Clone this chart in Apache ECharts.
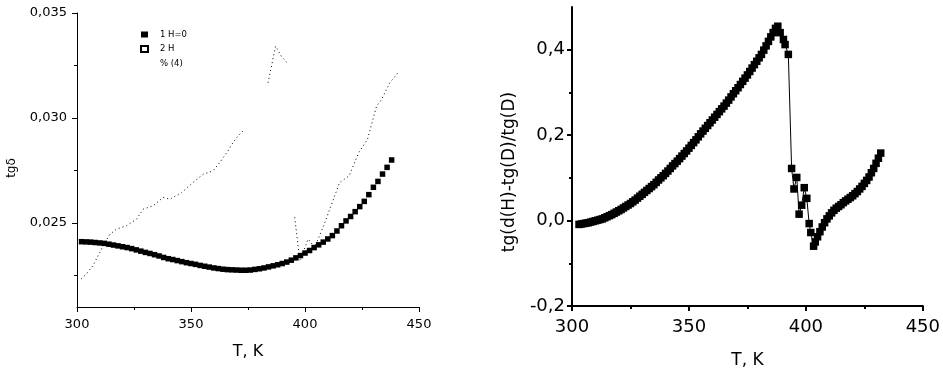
<!DOCTYPE html>
<html>
<head>
<meta charset="utf-8">
<script src="https://cdn.jsdelivr.net/npm/echarts@6/dist/echarts.min.js"></script>
<style>
html, body { margin: 0; padding: 0; background: #fff; }
#chart { width: 943px; height: 374px; }
</style>
</head>
<body>
<div id="chart"></div>
<script>
// левая панель: tg delta, серия 1 (H=0)
var leftT1 = [302,304,306,308,310,312,314,316,318,320,322,324,326,328,330,332,334,336,338,340,
  342,344,346,348,350,352,354,356,358,360,362,364,366,368,370,372,374,376,378,380,
  382,384,386,388,390,392,394,396,398,400,402,404,406,408,410,412,414,416,418,420,
  422,424,426,428,430,432,434,436,438];
var leftV1 = [0.02411,0.02410,0.02409,0.02407,0.02405,0.02403,0.02399,0.02395,0.02391,0.02387,
  0.02383,0.02378,0.02372,0.02366,0.02360,0.02355,0.02349,0.02343,0.02336,0.02330,
  0.02326,0.02321,0.02316,0.02311,0.02307,0.02303,0.02298,0.02294,0.02290,0.02286,
  0.02283,0.02280,0.02278,0.02277,0.02276,0.02275,0.02275,0.02276,0.02279,0.02282,
  0.02286,0.02291,0.02296,0.02301,0.02307,0.02314,0.02323,0.02334,0.02345,0.02357,
  0.02369,0.02383,0.02396,0.02409,0.02424,0.02440,0.02462,0.02487,0.02510,0.02531,
  0.02554,0.02578,0.02603,0.02635,0.02670,0.02698,0.02733,0.02765,0.02800];

// серия 2 (H), пунктир; null = разрыв
var leftT2 = [301.9,304.1,307,310,312.3,314.5,317.4,321.7,326.1,329,333.4,337.8,340.7,345.9,350.9,
  355.3,359.6,362.6,366.2,368.4,370.6,373.5,378,383.8,387.1,389.6,392.1,394,395.5,397.7,
  401.4,404.2,407.9,415.2,419.3,423.7,427.4,431.4,433.6,437.3,441];
var leftV2 = [0.02234,0.02257,0.02297,0.02360,0.02408,0.02447,0.02471,0.02487,0.02518,0.02566,
  0.02582,0.02622,0.02613,0.02645,0.02693,0.02732,0.02748,0.02788,0.02843,0.02883,
  0.02914,0.02946,null,0.03168,0.03342,0.03294,0.03263,null,0.02527,0.02321,
  0.02424,0.02384,0.02479,0.02693,0.02724,0.02838,0.02898,0.03057,0.03088,0.03170,0.03218];

// правая панель: (tg(H)-tg(D))/tg(D)
var rightT = [303,304,305,306,307,308,309,310,311,312,313,314,315,316,317,318,319,320,321,322,
  323,324,325,326,327,328,329,330,331,332,333,334,335,336,337,338,339,340,341,342,
  343,344,345,346,347,348,349,350,351,352,353,354,355,356,357,358,359,360,361,362,
  363,364,365,366,367,368,369,370,371,372,373,374,375,376,377,378,379,380,381,382,
  383,384,385,386,387,388,389,390.4,391.1,392.5,393.9,394.9,396.1,397.1,398.2,399.3,400.4,401.4,402.1,403.3,
  404,405,406,407,408,409,410,411,412,413,414,415,416,417,418,419,420,421,422,423,
  424,425,426,427,428,429,430,431,432];
var rightV = [-0.009,-0.008,-0.007,-0.006,-0.005,-0.0035,-0.002,-0.0005,0.001,0.0025,
  0.004,0.0065,0.009,0.0115,0.014,0.017,0.020,0.023,0.026,0.0295,
  0.033,0.0365,0.040,0.044,0.048,0.0525,0.057,0.0615,0.066,0.0705,
  0.075,0.0795,0.084,0.0895,0.095,0.100,0.105,0.1105,0.116,0.122,
  0.128,0.1335,0.139,0.145,0.151,0.157,0.163,0.1695,0.176,0.1825,
  0.189,0.196,0.203,0.2095,0.216,0.2225,0.229,0.2355,0.242,0.2485,
  0.255,0.2615,0.268,0.275,0.282,0.2895,0.297,0.304,0.311,0.3185,
  0.326,0.3335,0.341,0.349,0.357,0.365,0.373,0.381,0.389,0.399,
  0.409,0.4195,0.430,0.440,0.450,0.455,
  0.440,0.424,0.412,0.389,0.122,0.074,0.101,0.015,0.036,0.077,0.052,-0.007,-0.028,-0.060,
  -0.050,-0.038,-0.026,-0.015,-0.005,0.004,0.011,0.018,0.024,0.029,0.033,0.037,0.042,0.046,
  0.050,0.054,0.058,0.063,0.068,0.074,0.080,0.087,0.094,0.102,0.112,0.122,0.134,0.146,0.158];

var xTicks = [300, 350, 400, 450];
var leftYTicks = [0.025, 0.030, 0.035];
var leftYMinor = [0.0225, 0.0275, 0.0325];
var rightYTicks = [-0.2, 0.0, 0.2, 0.4];
var rightYMinor = [-0.1, 0.1, 0.3];

var FONT = 'DejaVu Sans';

function pairs(xs, ys) {
  return xs.map(function (x, i) { return [x, ys[i] === null ? '-' : ys[i]]; });
}

function xAxisCfg(grid, fs, margin, gap, nameSize, lw) {
  return {
    gridIndex: grid, type: 'value',
    min: xTicks[0], max: xTicks[xTicks.length - 1], interval: 50,
    axisLine: { onZero: false, lineStyle: { color: '#000', width: lw } },
    axisTick: { length: 5, lineStyle: { color: '#000', width: lw } },
    minorTick: { show: true, splitNumber: 2, length: 3, lineStyle: { color: '#000', width: lw } },
    splitLine: { show: false },
    axisLabel: { color: '#000', fontFamily: FONT, fontSize: fs, margin: margin },
    name: 'T, K', nameLocation: 'middle', nameGap: gap,
    nameTextStyle: { color: '#000', fontFamily: FONT, fontSize: nameSize }
  };
}

var chart = echarts.init(document.getElementById('chart'));
var option = {
  animation: false,
  backgroundColor: '#fff',
  grid: [
    { left: 77, top: 13, width: 342, height: 294 },
    { left: 572, top: 7, width: 351, height: 301 }
  ],
  xAxis: [
    xAxisCfg(0, 13, 11, 37, 16, 1),
    xAxisCfg(1, 18, 12, 46, 17, 2)
  ],
  yAxis: [
    {
      gridIndex: 0, type: 'value', min: 0.021, max: 0.035, position: 'left',
      axisLine: { onZero: false, lineStyle: { color: '#000', width: 1 } },
      axisTick: { customValues: leftYTicks, length: 5, lineStyle: { color: '#000' } },
      splitLine: { show: false },
      axisLabel: {
        customValues: leftYTicks, color: '#000', fontFamily: FONT, fontSize: 13, margin: 10,
        formatter: function (v) { return v.toFixed(3).replace('.', ','); }
      }
    },
    {
      gridIndex: 0, type: 'value', min: 0.021, max: 0.035, position: 'left',
      axisLine: { show: false },
      axisTick: { customValues: leftYMinor, length: 3, lineStyle: { color: '#000' } },
      axisLabel: { show: false }, splitLine: { show: false }
    },
    {
      gridIndex: 1, type: 'value', min: -0.2, max: 0.5, position: 'left',
      axisLine: { onZero: false, lineStyle: { color: '#000', width: 2 } },
      axisTick: { customValues: rightYTicks, length: 5, lineStyle: { color: '#000', width: 2 } },
      splitLine: { show: false },
      axisLabel: {
        customValues: rightYTicks, color: '#000', fontFamily: FONT, fontSize: 18, margin: 7,
        formatter: function (v) { return v.toFixed(1).replace('.', ','); }
      }
    },
    {
      gridIndex: 1, type: 'value', min: -0.2, max: 0.5, position: 'left',
      axisLine: { show: false },
      axisTick: { customValues: rightYMinor, length: 3, lineStyle: { color: '#000', width: 2 } },
      axisLabel: { show: false }, splitLine: { show: false }
    }
  ],
  legend: {
    left: 140, top: 30, orient: 'vertical', selectedMode: false, padding: 0,
    itemWidth: 7, itemHeight: 6, itemGap: 5.5,
    textStyle: { color: '#000', fontFamily: FONT, fontSize: 8.5, padding: [0, 0, 0, 7] },
    data: [
      { name: '1 H=0', icon: 'rect' },
      { name: '2 H', icon: 'emptyRect' },
      { name: '% (4)', icon: 'none' }
    ]
  },
  graphic: [
    {
      type: 'text', x: 12, y: 168, rotation: Math.PI / 2,
      style: { text: 'tgδ', fill: '#000', fontFamily: FONT, fontSize: 12, align: 'center', verticalAlign: 'middle' }
    },
    {
      type: 'text', x: 510, y: 172, rotation: Math.PI / 2,
      style: { text: 'tg(d(H)-tg(D)/tg(D)', fill: '#000', fontFamily: FONT, fontSize: 17, align: 'center', verticalAlign: 'middle' }
    }
  ],
  series: [
    {
      name: '1 H=0', type: 'scatter', xAxisIndex: 0, yAxisIndex: 0,
      symbol: 'rect', symbolSize: 5.5, itemStyle: { color: '#000', opacity: 1 },
      data: pairs(leftT1, leftV1)
    },
    {
      name: '2 H', type: 'line', xAxisIndex: 0, yAxisIndex: 0,
      symbol: 'none', connectNulls: false,
      itemStyle: { color: '#000' },
      lineStyle: { color: '#000', width: 1, type: [1, 3] },
      data: pairs(leftT2, leftV2)
    },
    {
      name: '% (4)', type: 'line', xAxisIndex: 0, yAxisIndex: 0,
      itemStyle: { color: '#000' }, data: []
    },
    {
      name: 'ratio', type: 'line', xAxisIndex: 1, yAxisIndex: 2,
      symbol: 'rect', symbolSize: 7.5, showAllSymbol: true,
      itemStyle: { color: '#000' },
      lineStyle: { color: '#000', width: 1 },
      data: pairs(rightT, rightV)
    }
  ]
};
chart.setOption(option);
</script>
</body>
</html>
